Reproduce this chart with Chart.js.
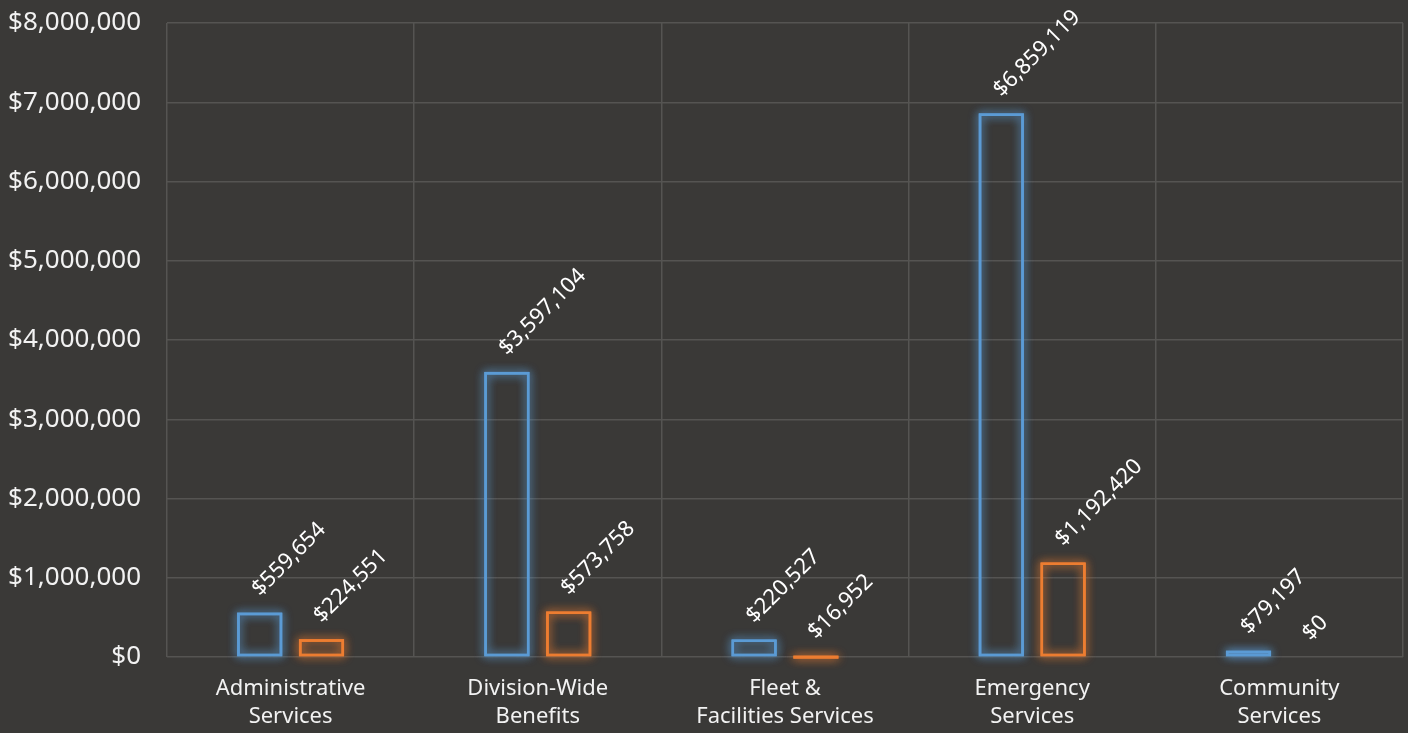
<!DOCTYPE html>
<html>
<head>
<meta charset="utf-8">
<script src="https://cdn.jsdelivr.net/npm/chart.js@4/dist/chart.umd.min.js"></script>
<style>
  html, body { margin: 0; padding: 0; background: #3a3937; }
  #wrap { width: 1408px; height: 733px; }
</style>
</head>
<body>
<div id="wrap"><canvas id="c" width="1408" height="733"></canvas></div>
<script>
const categories = [
  ["Administrative", "Services"],
  ["Division-Wide", "Benefits"],
  ["Fleet &", "Facilities Services"],
  ["Emergency", "Services"],
  ["Community", "Services"]
];
const seriesA = [559654, 3597104, 220527, 6859119, 79197];
const seriesB = [224551, 573758, 16952, 1192420, 0];
const yTicks = [0, 1000000, 2000000, 3000000, 4000000, 5000000, 6000000, 7000000, 8000000];

const fmt = v => "$" + Math.round(v).toLocaleString("en-US");

const glowColors = ["rgba(91,155,213,0.9)", "rgba(237,125,49,0.9)"];

const glowPlugin = {
  id: "glow",
  beforeDatasetsDraw(chart) {
    const ctx = chart.ctx;
    chart.data.datasets.forEach((ds, di) => {
      const meta = chart.getDatasetMeta(di);
      meta.data.forEach((bar, i) => {
        const h = bar.base - bar.y;
        if (Math.abs(h) < 0.5) return;
        const left = bar.x - bar.width / 2 + 1.25;
        const top = Math.min(bar.y, bar.base) + 1.25;
        const w = bar.width - 2.5;
        const hh = Math.abs(h) - 2.5;
        for (let k = 0; k < 2; k++) {
          ctx.save();
          ctx.strokeStyle = glowColors[di];
          ctx.lineWidth = 2.5;
          ctx.shadowColor = glowColors[di];
          ctx.shadowBlur = 10;
          ctx.strokeRect(left, top, w, Math.max(hh, 0.5));
          ctx.restore();
        }
      });
    });
  }
};

const labelPlugin = {
  id: "rotLabels",
  afterDatasetsDraw(chart) {
    const ctx = chart.ctx;
    ctx.save();
    ctx.fillStyle = "#ffffff";
    ctx.font = "22px 'Noto Sans'";
    ctx.textAlign = "left";
    ctx.textBaseline = "middle";
    chart.data.datasets.forEach((ds, di) => {
      const meta = chart.getDatasetMeta(di);
      meta.data.forEach((bar, i) => {
        const x = bar.x - 4;
        const y = bar.y - 20;
        ctx.save();
        ctx.translate(x, y);
        ctx.rotate(-Math.PI / 4);
        ctx.fillText(fmt(ds.data[i]), 0, 0);
        ctx.restore();
      });
    });
    ctx.restore();
  }
};

new Chart(document.getElementById("c"), {
  type: "bar",
  data: {
    labels: categories,
    datasets: [
      {
        data: seriesA,
        backgroundColor: "rgba(0,0,0,0)",
        borderColor: "#5b9bd5",
        borderWidth: 2.5,
        barPercentage: 0.73,
        categoryPercentage: 0.5
      },
      {
        data: seriesB,
        backgroundColor: "rgba(0,0,0,0)",
        borderColor: "#ed7d31",
        borderWidth: 2.5,
        barPercentage: 0.73,
        categoryPercentage: 0.5
      }
    ]
  },
  options: {
    responsive: false,
    animation: false,
    devicePixelRatio: 1,
    layout: { padding: { top: 23, right: 5, left: 0, bottom: 0 } },
    plugins: {
      legend: { display: false },
      tooltip: { enabled: false }
    },
    scales: {
      x: {
        grid: { color: "#555452", lineWidth: 1.5, drawTicks: false },
        border: { display: false },
        ticks: {
          color: "#f2f2f2",
          font: { family: "'Noto Sans'", size: 22, lineHeight: 1.27 },
          padding: 18,
          maxRotation: 0,
          autoSkip: false
        },
        afterFit(scale) { scale.height = 76; }
      },
      y: {
        min: 0,
        max: 8000000,
        afterBuildTicks(scale) { scale.ticks = yTicks.map(v => ({ value: v })); },
        grid: { color: "#555452", lineWidth: 1.5, drawTicks: false },
        border: { display: false },
        ticks: {
          color: "#f2f2f2",
          font: { family: "'Noto Sans'", size: 26 },
          padding: 26,
          callback: v => fmt(v)
        },
        afterFit(scale) {
          scale.width = 167;
          scale.paddingTop = 0;
          scale.paddingBottom = 0;
        }
      }
    }
  },
  plugins: [glowPlugin, labelPlugin]
});
</script>
</body>
</html>
